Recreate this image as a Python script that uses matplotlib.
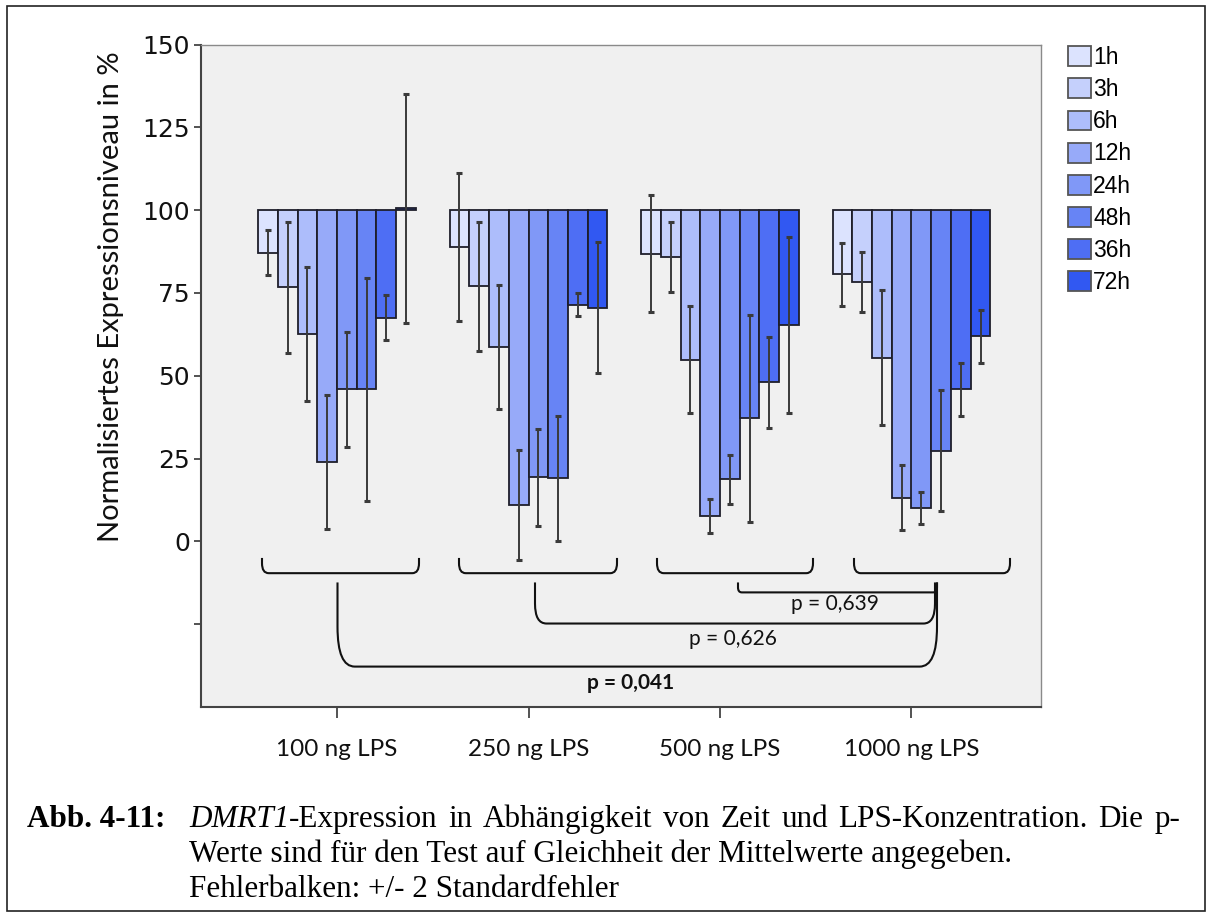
import matplotlib
matplotlib.use("Agg")
import matplotlib.pyplot as plt
import numpy as np
from matplotlib.patches import Patch, Rectangle, PathPatch
from matplotlib.path import Path

# ---------------- data ----------------
groups = ["100 ng LPS", "250 ng LPS", "500 ng LPS", "1000 ng LPS"]
times = ["1h", "3h", "6h", "12h", "24h", "48h", "36h", "72h"]

mean_100 = [87.2, 76.7, 62.6, 23.9, 45.9, 45.9, 67.5, 100.5]
mean_250 = [88.9, 77.0, 58.7, 11.0, 19.3, 19.0, 71.5, 70.6]
mean_500 = [86.9, 85.9, 54.9, 7.7, 18.7, 37.1, 48.0, 65.4]
mean_1000 = [80.6, 78.3, 55.4, 13.2, 10.0, 27.4, 45.9, 62.0]

# +/- 2 standard errors
err_100 = [6.9, 19.7, 20.1, 20.3, 17.3, 33.6, 6.8, 34.7]
err_250 = [22.3, 19.4, 18.8, 16.5, 14.6, 19.0, 3.5, 19.8]
err_500 = [17.7, 10.5, 16.1, 5.1, 7.4, 31.3, 13.7, 26.5]
err_1000 = [9.4, 9.2, 20.4, 9.8, 4.8, 18.3, 8.0, 8.0]

y_ticks = [0, 25, 50, 75, 100, 125, 150]
p_labels = ["p = 0,639", "p = 0,626", "p = 0,041"]

colors = ["#dce3fe", "#c5d0fc", "#adbdfb", "#97aaf9", "#8098f7",
          "#6784f5", "#4e6ef4", "#3158f2"]

caption_head = "Abb. 4-11:"
caption_gene = "DMRT1"
caption_line1 = "-Expression in Abhängigkeit von Zeit und LPS-Konzentration. Die p-"
caption_line2 = "Werte sind für den Test auf Gleichheit der Mittelwerte angegeben."
caption_line3 = "Fehlerbalken: +/- 2 Standardfehler"

# ---------------- figure ----------------
W, H = 1212, 915
fig = plt.figure(figsize=(W / 100, H / 100), dpi=100)
fig.patch.set_facecolor("white")


def fx(px):
    return px / W


def fy(py):
    return 1 - py / H


ax_l, ax_r, ax_t, ax_b = 201, 1041, 44.5, 707
ax = fig.add_axes([fx(ax_l), fy(ax_b), fx(ax_r) - fx(ax_l), fy(ax_t) - fy(ax_b)])
ax.set_facecolor("#f0f0f0")
spacing_px = 191.5
ax.set_xlim(-(337 - ax_l) / spacing_px, 3 + (ax_r - 911.5) / spacing_px)
ax.set_ylim(-50, 150)

means = [mean_100, mean_250, mean_500, mean_1000]
errs = [err_100, err_250, err_500, err_1000]
n = len(times)
w = 0.103
xg = np.arange(len(groups))
for i in range(n):
    xs = xg + (i - (n - 1) / 2) * w
    vals = np.array([m[i] for m in means])
    e = np.array([er[i] for er in errs])
    ax.bar(xs, vals - 100, bottom=100, width=w, color=colors[i],
           edgecolor="#1e1e2a", linewidth=1.3, zorder=2)
    ax.errorbar(xs, vals, yerr=e, fmt="none", ecolor="#3a3a3a",
                elinewidth=1.4, capsize=2.5, capthick=2.2, zorder=3)

# axes styling
for s in ["left", "bottom"]:
    ax.spines[s].set_color("#444444")
    ax.spines[s].set_linewidth(1.5)
for s in ["top", "right"]:
    ax.spines[s].set_color("#8a8a8a")
    ax.spines[s].set_linewidth(1.0)

ax.set_yticks(y_ticks)
ax.set_yticklabels([str(t) for t in y_ticks], fontsize=18,
                   family="DejaVu Sans", color="#111111")
ax.set_yticks([-25], minor=True)
ax.tick_params(axis="y", which="both", direction="out", length=5,
               width=1.3, color="#444444", pad=3)
ax.set_xticks(xg)
ax.set_xticklabels(groups, fontsize=17.5, family="Lato", color="#111111")
ax.tick_params(axis="x", direction="out", length=8, width=1.3,
               color="#444444", pad=15)

fig.text(fx(111), fy(297), "Normalisiertes Expressionsniveau in %",
         rotation=90, ha="center", va="center", fontsize=21, family="Lato",
         color="#111111")


def px2x(px):
    return (px - 337) / spacing_px


def bracket(x0, x1, ytop, ybot, rx, ry, lw=1.5):
    verts = [(x0, ytop), (x0, ybot + ry), (x0, ybot), (x0 + rx, ybot),
             (x1 - rx, ybot), (x1, ybot), (x1, ybot + ry), (x1, ytop)]
    codes = [Path.MOVETO, Path.LINETO, Path.CURVE3, Path.CURVE3,
             Path.LINETO, Path.CURVE3, Path.CURVE3, Path.LINETO]
    ax.add_patch(PathPatch(Path(verts, codes), fill=False, lw=lw,
                           edgecolor="#111111", zorder=4, clip_on=False))


# small brackets under each group
for a, b in [(262, 419), (459, 617), (657, 813), (854, 1010)]:
    bracket(px2x(a), px2x(b), -5.0, -9.6, 0.035, 3.0)

# comparison brackets
bracket(px2x(738), px2x(937), -12.4, -15.4, 0.02, 1.5)
bracket(px2x(535), px2x(935), -12.4, -24.8, 0.06, 6.0)
bracket(px2x(337.5), px2x(937), -12.4, -37.8, 0.09, 12.0)

ax.text(px2x(835), -18.9, p_labels[0], ha="center", va="center",
        fontsize=15, family="Lato", color="#111111")
ax.text(px2x(733), -29.5, p_labels[1], ha="center", va="center",
        fontsize=15, family="Lato", color="#111111")
ax.text(px2x(631), -42.8, p_labels[2], ha="center", va="center",
        fontsize=15, family="Lato", fontweight="bold", color="#111111")

# legend
handles = [Patch(facecolor=c, edgecolor="#555555", linewidth=1.3) for c in colors]
ax.legend(handles, times, loc="upper left",
          bbox_to_anchor=(fx(1068), fy(46)), bbox_transform=fig.transFigure,
          frameon=False, prop={"family": "Liberation Sans", "size": 16.5},
          handlelength=1.0, handleheight=0.95, handletextpad=0.1,
          labelspacing=0.4, borderpad=0, borderaxespad=0)

# caption (first line justified to the right margin)
cap_size = 22.4
serif = "Liberation Serif"
base1, base2, base3 = 827, 862, 897
fig.text(fx(27), fy(base1), caption_head, fontsize=cap_size, family=serif,
         fontweight="bold", va="baseline")
renderer = fig.canvas.get_renderer()
x_start, x_end = 189, 1180
gene_t = fig.text(fx(x_start), fy(base1), caption_gene, fontsize=cap_size,
                  family=serif, style="italic", va="baseline")
gene_w = gene_t.get_window_extent(renderer).width
words = caption_line1.split(" ")
word_ts = [fig.text(0, fy(base1), wd, fontsize=cap_size, family=serif,
                    va="baseline") for wd in words]
widths = [t.get_window_extent(renderer).width for t in word_ts]
total = gene_w + sum(widths)
gap = (x_end - x_start - total) / (len(words) - 1)
xpos = x_start + gene_w
for k, t in enumerate(word_ts):
    t.set_x(fx(xpos))
    xpos += widths[k] + gap

fig.text(fx(x_start), fy(base2), caption_line2, fontsize=cap_size, family=serif,
         va="baseline")
fig.text(fx(x_start), fy(base3), caption_line3, fontsize=cap_size, family=serif,
         va="baseline")

# outer frame
fig.patches.append(Rectangle((fx(7), fy(911)), fx(1205) - fx(7), fy(6) - fy(911),
                             transform=fig.transFigure, fill=False,
                             edgecolor="#222222", linewidth=1.2))

fig.savefig("out.png", dpi=100)
